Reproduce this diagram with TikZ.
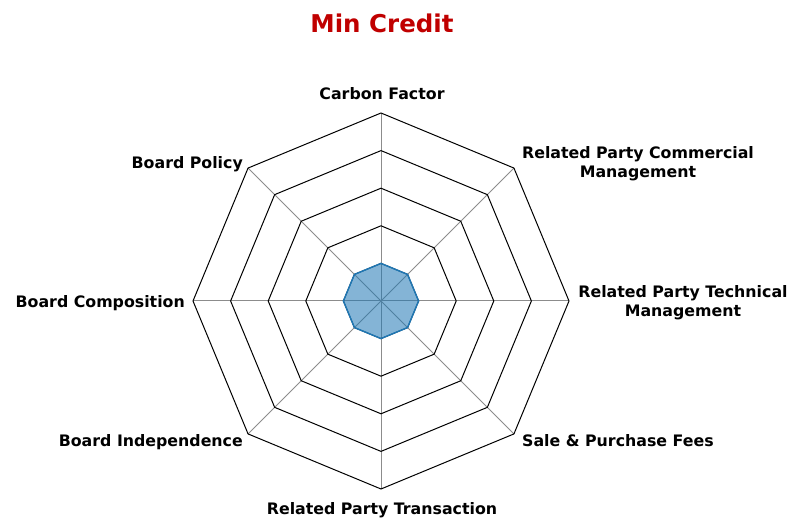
\documentclass[tikz,border=0pt]{standalone}
\usepackage{fontspec}
\setmainfont{DejaVu Sans}
\definecolor{titlered}{RGB}{192,0,0}
\definecolor{datablue}{RGB}{31,119,180}
\definecolor{spokegray}{RGB}{140,140,140}
\begin{document}
\begin{tikzpicture}[x=1pt,y=1pt,
  ring/.style={draw=black,line width=1pt,line join=miter},
  spoke/.style={draw=spokegray,line width=1pt},
  datapoly/.style={draw=datablue,line width=1.4pt,fill=datablue,fill opacity=0.55,draw opacity=1},
  lab/.style={font=\fontsize{15.8}{19}\selectfont\bfseries,inner sep=0pt,align=center},
  ttl/.style={font=\fontsize{24.5}{28}\selectfont\bfseries,text=titlered,inner sep=0pt}]
\useasboundingbox (0,0) rectangle (790,518);
\begin{scope}[shift={(381,217)}]
  \foreach \a in {90,45,0,-45,-90,-135,180,135}
    \draw[spoke] (0,0) -- (\a:188);
  \foreach \k in {1,...,5}{
    \pgfmathsetmacro{\r}{\k*37.6}
    \draw[ring] (90:\r) -- (45:\r) -- (0:\r) -- (-45:\r) -- (-90:\r) -- (-135:\r) -- (180:\r) -- (135:\r) -- cycle;
  }
  \draw[datapoly] (90:37.6) -- (45:37.6) -- (0:37.6) -- (-45:37.6) -- (-90:37.6) -- (-135:37.6) -- (180:37.6) -- (135:37.6) -- cycle;
\end{scope}
\node[ttl,anchor=base] (title) at (382,485) {Min Credit};
\node[lab,anchor=base] (cf) at (382,418) {Carbon Factor};
\node[lab,anchor=base] (rpcm) at (638,359) {Related Party Commercial};
\node[lab,anchor=base] (rpcm2) at (638,340) {Management};
\node[lab,anchor=base] (rptm) at (683,220) {Related Party Technical};
\node[lab,anchor=base] (rptm2) at (683,201) {Management};
\node[lab,anchor=base west] (spf) at (522,71) {Sale \& Purchase Fees};
\node[lab,anchor=base] (rpt) at (382,3) {Related Party Transaction};
\node[lab,anchor=base east] (bi) at (243,71) {Board Independence};
\node[lab,anchor=base east] (bc) at (185,210) {Board Composition};
\node[lab,anchor=base east] (bp) at (243,349) {Board Policy};
\end{tikzpicture}
\end{document}
